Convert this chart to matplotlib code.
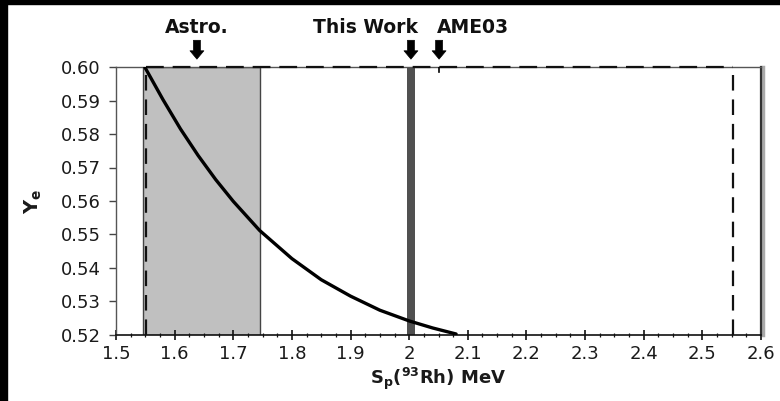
import matplotlib
matplotlib.use("Agg")
import matplotlib.pyplot as plt
from matplotlib.ticker import MultipleLocator, FormatStrFormatter
from matplotlib.patches import Rectangle

# Y_e as a function of the 93Rh proton separation energy
sp_mev = [1.549, 1.58, 1.61, 1.64, 1.67, 1.70, 1.745, 1.80, 1.85, 1.90, 1.95, 2.00, 2.04, 2.08]
ye = [0.600, 0.5903, 0.5815, 0.5736, 0.5664, 0.5599, 0.5512, 0.5428, 0.5365, 0.5316, 0.5274, 0.5242, 0.5221, 0.5203]

astro_range = (1.5455, 1.7455)      # shaded astrophysical range
this_work = (1.996, 2.010)          # measured value band
ame03 = 2.051                       # AME03 value
search_box = (1.552, 2.552)         # dashed search window
arrow_x = {"Astro.": 1.638, "This Work": 2.003, "AME03": 2.051}

x_ticks = [1.5, 1.6, 1.7, 1.8, 1.9, 2.0, 2.1, 2.2, 2.3, 2.4, 2.5, 2.6]
x_tick_labels = ["1.5", "1.6", "1.7", "1.8", "1.9", "2", "2.1", "2.2", "2.3", "2.4", "2.5", "2.6"]
y_ticks = [0.52, 0.53, 0.54, 0.55, 0.56, 0.57, 0.58, 0.59, 0.60]

plt.rcParams["font.family"] = ["DejaVu Sans"]
fig = plt.figure(figsize=(7.8, 4.01), dpi=100)
fig.patch.set_facecolor("white")

# black frame on the left and top edges
fig.patches.append(Rectangle((0, 0), 7 / 780, 1, transform=fig.transFigure, color="black", zorder=0))
fig.patches.append(Rectangle((0, 1 - 4 / 401), 1, 4 / 401, transform=fig.transFigure, color="black", zorder=0))

ax = fig.add_axes([116 / 780, 66 / 401, 645 / 780, 268 / 401])
ax.set_xlim(1.5, 2.6)
ax.set_ylim(0.52, 0.60)

# shaded astrophysical range
ax.axvspan(*astro_range, facecolor="#c0c0c0", edgecolor="#444444", linewidth=1.0, zorder=1)
# this work band
ax.axvspan(*this_work, facecolor="#505050", edgecolor="none", zorder=2)

# dashed window
vdash = dict(color="#111111", linewidth=1.6, dashes=(7, 4), zorder=3)
hdash = dict(color="#111111", linewidth=1.6, dashes=(8, 4), zorder=3)
ax.plot([search_box[0], search_box[0]], [0.52, 0.60], **vdash)
ax.plot([search_box[1], search_box[1]], [0.52, 0.60], **vdash)
ax.plot([search_box[0], search_box[1]], [0.60, 0.60], clip_on=False, **hdash)

# AME03 marker at the top
ax.plot([ame03, ame03], [0.60, 0.5985], color="black", linewidth=1.2, zorder=4)

# the Y_e curve
ax.plot(sp_mev, ye, color="black", linewidth=2.4, zorder=5, solid_capstyle="round", solid_joinstyle="round")

# spines
for side in ("left", "top"):
    ax.spines[side].set_color("#555555")
    ax.spines[side].set_linewidth(1.0)
ax.spines["bottom"].set_color("#111111")
ax.spines["bottom"].set_linewidth(1.2)
ax.spines["right"].set_color("#333333")
ax.spines["right"].set_linewidth(1.6)
# light shadow next to the right spine
ax.plot([1.003, 1.003], [0, 1.0], transform=ax.transAxes, color="#aaaaaa", linewidth=2.5, clip_on=False, zorder=0)

ax.set_xticks(x_ticks)
ax.set_xticklabels(x_tick_labels)
ax.xaxis.set_minor_locator(MultipleLocator(0.025))
ax.set_yticks(y_ticks)
ax.yaxis.set_major_formatter(FormatStrFormatter("%.2f"))
ax.tick_params(axis="x", which="major", direction="inout", length=7, width=1.2, colors="#111111",
               labelsize=13, labelcolor="#1a1a1a", pad=4)
ax.tick_params(axis="x", which="minor", direction="inout", length=3.5, width=0.9, colors="#111111")
ax.tick_params(axis="y", which="major", direction="out", length=5, width=1.0, colors="#444444",
               labelsize=13, labelcolor="#1a1a1a", pad=6)

ax.set_xlabel(r"$\mathbf{S_p(^{93}Rh)}$ MeV", fontsize=13, fontweight="bold", color="#1a1a1a", labelpad=2)
ax.set_ylabel(r"$\mathbf{Y_e}$", fontsize=14, fontweight="bold", color="#1a1a1a", labelpad=12)

# labelled arrows above the plot
trans = ax.get_xaxis_transform()
label_layout = {"Astro.": ("center", 0.0), "This Work": ("right", 0.012), "AME03": ("left", -0.004)}
for name, xv in arrow_x.items():
    ax.annotate("", xy=(xv, 1.019), xytext=(xv, 1.11), xycoords=trans, textcoords=trans,
                arrowprops=dict(arrowstyle="simple,head_width=1.0,head_length=0.6,tail_width=0.5",
                                fc="black", ec="black", lw=0.5))
    ha, dx = label_layout[name]
    ax.text(xv + dx, 1.148, name, transform=trans, ha=ha, va="center",
            fontsize=13.5, fontweight="bold", color="#111111")

fig.savefig("out.png", dpi=100, facecolor=fig.get_facecolor())
